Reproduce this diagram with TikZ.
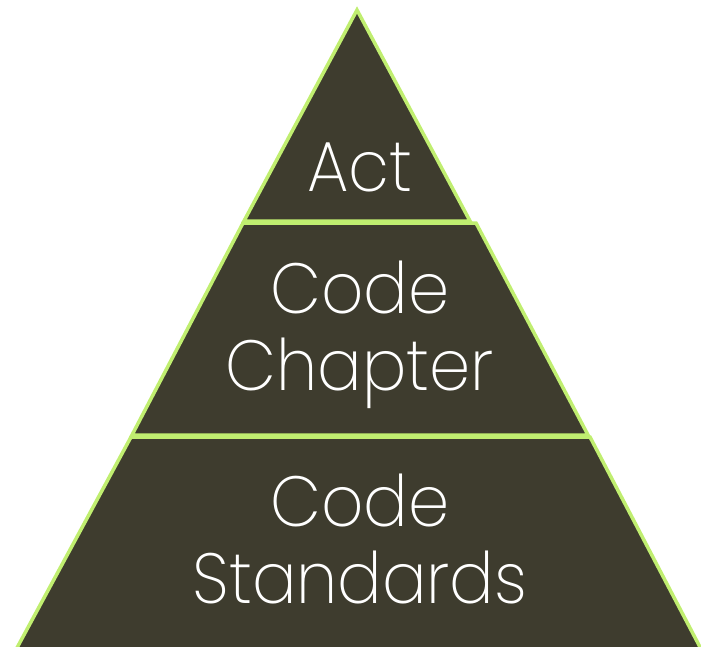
\documentclass[tikz,border=0pt]{standalone}
\usepackage{fontspec}
\setmainfont{Poppins ExtraLight}[FakeStretch=0.93]
\definecolor{tierfill}{RGB}{62,60,46}
\definecolor{tierline}{RGB}{192,238,112}
\begin{document}
\begin{tikzpicture}[x=1pt,y=-1pt,
  tier/.style={fill=tierfill,draw=tierline,line width=3.5pt,line join=miter},
  tiertext/.style={text=white,font=\fontsize{71}{77}\selectfont,align=center,inner sep=0pt,anchor=base}]
\useasboundingbox (0,0) rectangle (701,647);
\clip (0,0) rectangle (701,647);
% top tier
\path[tier] (357,10) -- (470,221) -- (244,221) -- cycle;
% middle tier
\path[tier] (243,223) -- (476,223) -- (588,435) -- (132,435) -- cycle;
% bottom tier
\path[tier] (131,437) -- (590,437) -- (712,670) -- (5,670) -- cycle;
\node[tiertext] (act) at (360,192) {Act};
\node[tiertext] (code1) at (360,313) {Code};
\node[tiertext] (chapter) at (360,390) {Chapter};
\node[tiertext] (code2) at (360,526) {Code};
\node[tiertext] (standards) at (360,603) {Standards};
\end{tikzpicture}
\end{document}
